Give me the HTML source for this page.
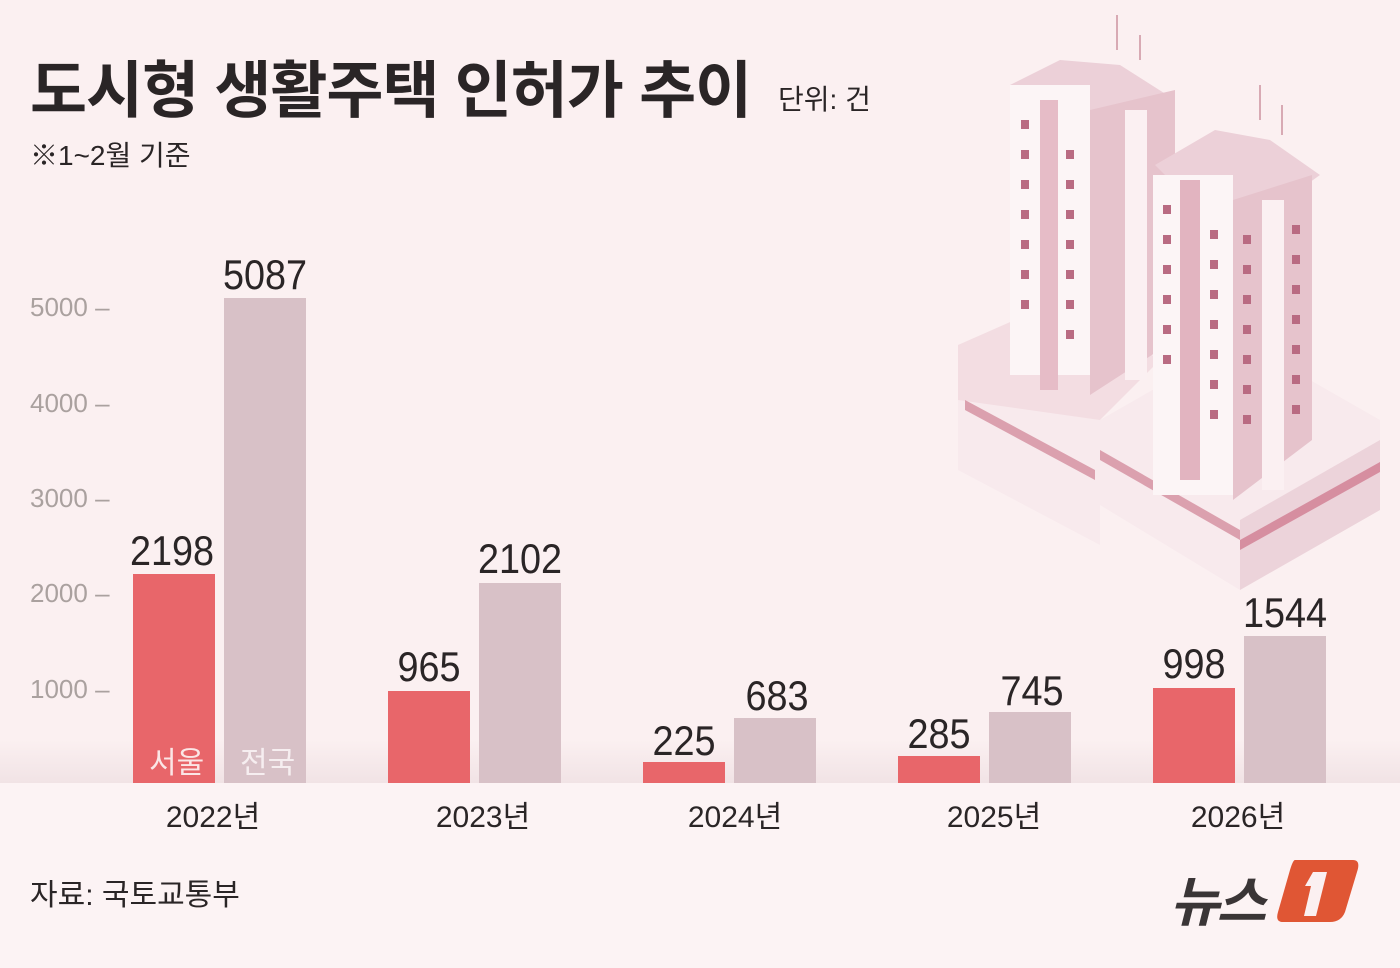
<!DOCTYPE html>
<html><head><meta charset="utf-8"><style>
body{margin:0;width:1400px;height:968px;background:#fbf0f1;overflow:hidden;position:relative;font-family:"Liberation Sans","Noto Sans CJK KR",sans-serif;color:#2a2526}
.a{position:absolute;white-space:nowrap}
.n{font-family:"Liberation Sans Narrow","Liberation Sans","Noto Sans CJK KR",sans-serif}
.bar{position:absolute;bottom:185px;width:82px}
.s{background:#e8666a}.g{background:#d8c1c7}
.v{position:absolute;font-size:42px;width:160px;text-align:center;transform:scaleX(.9)}
.t{position:absolute;left:30px;font-size:26px;color:#aaa19f}
.y{position:absolute;top:792px;font-size:30px;width:200px;text-align:center}
</style></head><body>
<svg class="a" style="left:950px;top:0" width="450" height="600" viewBox="950 0 450 600">
<g fill="none" stroke="#d8aab4" stroke-width="2"><line x1="1117" y1="15" x2="1117" y2="50"/><line x1="1140" y1="35" x2="1140" y2="60"/><line x1="1260" y1="85" x2="1260" y2="120"/><line x1="1282" y1="105" x2="1282" y2="135"/></g>
<polygon points="958,345 1100,290 1100,545 958,470" fill="#f8eaed"/>
<polygon points="958,345 1060,300 1160,360 1100,420 958,400" fill="#f3dde2"/>
<polygon points="965,400 1095,470 1095,480 965,410" fill="#dba0ae"/>
<polygon points="1100,420 1240,340 1380,420 1380,510 1240,590 1100,505" fill="#f8eaed"/>
<polygon points="1240,520 1380,440 1380,510 1240,590" fill="#ecd3da"/>
<polygon points="1240,540 1380,462 1380,472 1240,550" fill="#d68ea0"/>
<polygon points="1100,450 1240,530 1240,540 1100,460" fill="#dba0ae"/>
<polygon points="1010,85 1060,60 1120,65 1175,100 1130,120 1080,110 1030,100" fill="#ecd0d8"/>
<rect x="1010" y="85" width="80" height="290" fill="#fcf5f6"/>
<rect x="1040" y="100" width="18" height="290" fill="#e6bcc7"/>
<polygon points="1090,110 1175,90 1175,340 1090,395" fill="#e6c3cc"/>
<rect x="1125" y="110" width="22" height="270" fill="#fbf0f2"/>
<polygon points="1155,165 1215,130 1270,140 1320,175 1285,200 1225,205 1175,185" fill="#ecd0d8"/>
<rect x="1153" y="175" width="80" height="320" fill="#fcf5f6"/>
<rect x="1180" y="180" width="20" height="300" fill="#e2b4c0"/>
<polygon points="1233,200 1312,175 1312,440 1233,500" fill="#e6c3cc"/>
<rect x="1262" y="200" width="22" height="290" fill="#fbf0f2"/>
<g fill="#b96b82">
<rect x="1021" y="120" width="8" height="9"/><rect x="1021" y="150" width="8" height="9"/><rect x="1021" y="180" width="8" height="9"/><rect x="1021" y="210" width="8" height="9"/><rect x="1021" y="240" width="8" height="9"/><rect x="1021" y="270" width="8" height="9"/><rect x="1021" y="300" width="8" height="9"/>
<rect x="1066" y="150" width="8" height="9"/><rect x="1066" y="180" width="8" height="9"/><rect x="1066" y="210" width="8" height="9"/><rect x="1066" y="240" width="8" height="9"/><rect x="1066" y="270" width="8" height="9"/><rect x="1066" y="300" width="8" height="9"/><rect x="1066" y="330" width="8" height="9"/>
<rect x="1163" y="205" width="8" height="9"/><rect x="1163" y="235" width="8" height="9"/><rect x="1163" y="265" width="8" height="9"/><rect x="1163" y="295" width="8" height="9"/><rect x="1163" y="325" width="8" height="9"/><rect x="1163" y="355" width="8" height="9"/>
<rect x="1210" y="230" width="8" height="9"/><rect x="1210" y="260" width="8" height="9"/><rect x="1210" y="290" width="8" height="9"/><rect x="1210" y="320" width="8" height="9"/><rect x="1210" y="350" width="8" height="9"/><rect x="1210" y="380" width="8" height="9"/><rect x="1210" y="410" width="8" height="9"/>
<rect x="1243" y="235" width="8" height="9"/><rect x="1243" y="265" width="8" height="9"/><rect x="1243" y="295" width="8" height="9"/><rect x="1243" y="325" width="8" height="9"/><rect x="1243" y="355" width="8" height="9"/><rect x="1243" y="385" width="8" height="9"/><rect x="1243" y="415" width="8" height="9"/>
<rect x="1292" y="225" width="8" height="9"/><rect x="1292" y="255" width="8" height="9"/><rect x="1292" y="285" width="8" height="9"/><rect x="1292" y="315" width="8" height="9"/><rect x="1292" y="345" width="8" height="9"/><rect x="1292" y="375" width="8" height="9"/><rect x="1292" y="405" width="8" height="9"/>
</g></svg>
<div class="a" style="left:30px;top:40px;font-size:62px;font-weight:bold;letter-spacing:-1px">도시형 생활주택 인허가 추이</div>
<div class="a" style="left:778px;top:78px;font-size:28px">단위: 건</div>
<div class="a" style="left:30px;top:134px;font-size:28px">※1~2월 기준</div>
<div class="a" style="left:0;top:740px;width:1400px;height:43px;background:linear-gradient(#fbf0f100,#f1e3e5)"></div>
<div class="a" style="left:0;top:783px;width:1400px;height:185px;background:#fcf3f4"></div>
<div class="t n" style="top:292px">5000 –</div><div class="t n" style="top:388px">4000 –</div><div class="t n" style="top:483px">3000 –</div><div class="t n" style="top:578px">2000 –</div><div class="t n" style="top:674px">1000 –</div>
<div class="bar s" style="left:133px;height:209px"></div><div class="bar g" style="left:224px;height:485px"></div>
<div class="bar s" style="left:388px;height:92px"></div><div class="bar g" style="left:479px;height:200px"></div>
<div class="bar s" style="left:643px;height:21px"></div><div class="bar g" style="left:734px;height:65px"></div>
<div class="bar s" style="left:898px;height:27px"></div><div class="bar g" style="left:989px;height:71px"></div>
<div class="bar s" style="left:1153px;height:95px"></div><div class="bar g" style="left:1244px;height:147px"></div>
<div class="a" style="left:149px;top:738px;font-size:30px;color:#fbe6e6">서울</div>
<div class="a" style="left:240px;top:738px;font-size:30px;color:#f6eef0">전국</div>
<div class="v n" style="left:92px;top:527px">2198</div><div class="v n" style="left:185px;top:251px">5087</div>
<div class="v n" style="left:349px;top:643px">965</div><div class="v n" style="left:440px;top:535px">2102</div>
<div class="v n" style="left:604px;top:717px">225</div><div class="v n" style="left:697px;top:672px">683</div>
<div class="v n" style="left:859px;top:710px">285</div><div class="v n" style="left:952px;top:667px">745</div>
<div class="v n" style="left:1114px;top:640px">998</div><div class="v n" style="left:1205px;top:589px">1544</div>
<div class="y n" style="left:113px">2022년</div><div class="y n" style="left:383px">2023년</div><div class="y n" style="left:635px">2024년</div><div class="y n" style="left:894px">2025년</div><div class="y n" style="left:1138px">2026년</div>
<div class="a" style="left:30px;top:870px;font-size:30px">자료: 국토교통부</div>
<div class="a" style="left:1170px;top:858px;font-size:54px;font-weight:bold;color:#3a3536;font-style:italic;letter-spacing:-3px">뉴스</div>
<svg class="a" style="left:1275px;top:856px" width="85" height="70"><path d="M20,4 H78 Q86,4 82,16 L70,56 Q66,66 55,66 H8 Q0,66 3,56 L15,14 Q18,4 20,4Z" fill="#e05634"/><path d="M38,16 H52 L41,60 H29 L36,30 H30Z" fill="#fbf0f1"/></svg>
</body></html>
